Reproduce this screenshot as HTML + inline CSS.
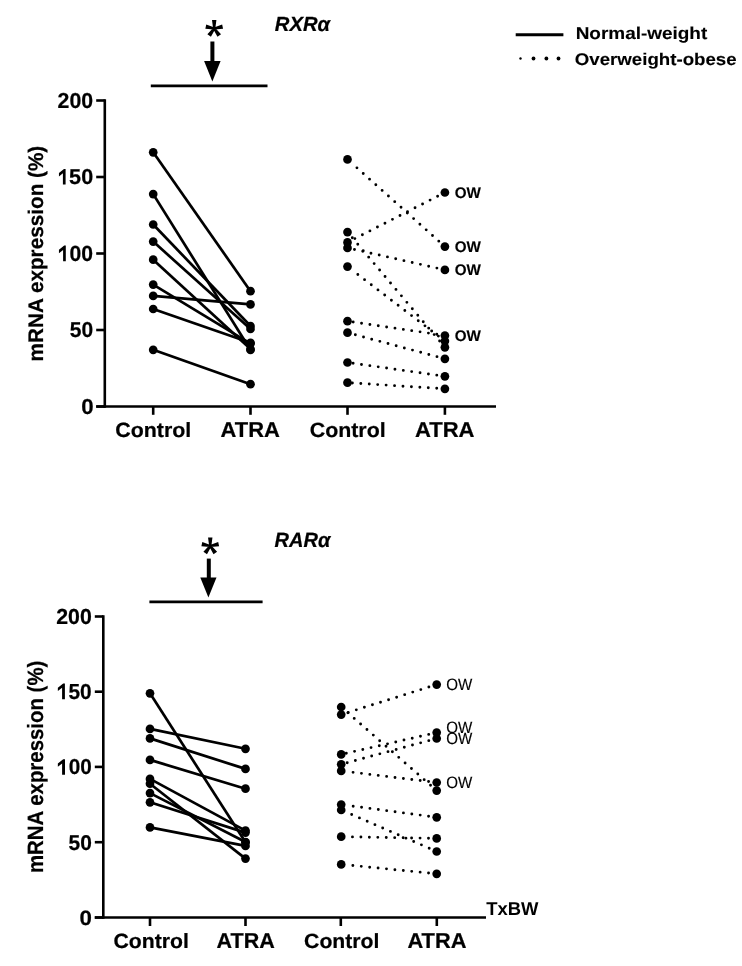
<!DOCTYPE html>
<html><head><meta charset="utf-8"><style>
html,body{margin:0;padding:0;background:#fff;}
svg{display:block;filter:blur(0.7px);}
text{font-family:"Liberation Sans", sans-serif;fill:#000;stroke:#000;text-rendering:geometricPrecision;}
</style></head><body>
<svg width="742" height="966" viewBox="0 0 742 966">
<rect width="742" height="966" fill="#fff"/>
<line x1="104.8" y1="99.2" x2="104.8" y2="407.8" stroke="#000" stroke-width="2.6" />
<line x1="96.2" y1="100.5" x2="104.8" y2="100.5" stroke="#000" stroke-width="2.6" />
<line x1="96.2" y1="177" x2="104.8" y2="177" stroke="#000" stroke-width="2.6" />
<line x1="96.2" y1="253.5" x2="104.8" y2="253.5" stroke="#000" stroke-width="2.6" />
<line x1="96.2" y1="330" x2="104.8" y2="330" stroke="#000" stroke-width="2.6" />
<line x1="96.2" y1="406.5" x2="104.8" y2="406.5" stroke="#000" stroke-width="2.6" />
<line x1="96.2" y1="406.5" x2="496" y2="406.5" stroke="#000" stroke-width="2.6" />
<line x1="153.2" y1="406.5" x2="153.2" y2="414.8" stroke="#000" stroke-width="2.6" />
<line x1="250.5" y1="406.5" x2="250.5" y2="414.8" stroke="#000" stroke-width="2.6" />
<line x1="347.5" y1="406.5" x2="347.5" y2="414.8" stroke="#000" stroke-width="2.6" />
<line x1="444.9" y1="406.5" x2="444.9" y2="414.8" stroke="#000" stroke-width="2.6" />
<text x="57.61" y="107.82" font-size="21.66" font-weight="bold" font-style="normal" textLength="35.55" lengthAdjust="spacingAndGlyphs" stroke-width="0.22" >200</text>
<text x="69.11" y="184.12" font-size="21.52" font-weight="bold" font-style="normal" textLength="24.04" lengthAdjust="spacingAndGlyphs" stroke-width="0.22" >50</text>
<polygon points="65.60,184.45 65.60,168.95 63.98,168.95 58.95,173.08 58.95,176.44 62.90,173.19 62.90,184.45" fill="#000"/>
<text x="69.61" y="261.02" font-size="21.94" font-weight="bold" font-style="normal" textLength="23.52" lengthAdjust="spacingAndGlyphs" stroke-width="0.22" >00</text>
<polygon points="65.80,261.35 65.80,245.55 64.20,245.55 58.95,249.76 58.95,253.19 63.10,249.88 63.10,261.35" fill="#000"/>
<text x="69.83" y="337.42" font-size="21.52" font-weight="bold" font-style="normal" textLength="23.40" lengthAdjust="spacingAndGlyphs" stroke-width="0.22" >50</text>
<text x="81.17" y="413.82" font-size="21.66" font-weight="bold" font-style="normal" textLength="12.39" lengthAdjust="spacingAndGlyphs" stroke-width="0.22" >0</text>
<text x="115.31" y="436.53" font-size="20.65" font-weight="bold" font-style="normal" textLength="75.93" lengthAdjust="spacingAndGlyphs" stroke-width="0.22" >Control</text>
<text x="220.51" y="436.94" font-size="21.57" font-weight="bold" font-style="normal" textLength="59.35" lengthAdjust="spacingAndGlyphs" stroke-width="0.22" >ATRA</text>
<text x="309.71" y="436.53" font-size="20.52" font-weight="bold" font-style="normal" textLength="75.93" lengthAdjust="spacingAndGlyphs" stroke-width="0.22" >Control</text>
<text x="414.91" y="436.94" font-size="21.57" font-weight="bold" font-style="normal" textLength="59.65" lengthAdjust="spacingAndGlyphs" stroke-width="0.22" >ATRA</text>
<text transform="translate(43.10,361.40) rotate(-90)" x="0" y="0" font-size="21.09" font-weight="bold" textLength="215.68" lengthAdjust="spacingAndGlyphs" stroke-width="0.22">mRNA expression (%)</text>
<line x1="150.8" y1="85.9" x2="267.5" y2="85.9" stroke="#000" stroke-width="2.6" />
<line x1="212.4" y1="41.5" x2="212.4" y2="62" stroke="#000" stroke-width="4.0" />
<polygon points="204.1,60.9 220.6,60.9 212.35,81.6" fill="#000"/>
<path d="M215.30,28.50L216.40,19.90L212.00,19.90L213.10,28.50ZM214.43,29.58L223.07,28.86L222.15,24.56L213.97,27.42ZM214.43,27.42L206.25,24.56L205.33,28.86L213.97,29.58ZM213.31,29.15L217.48,36.75L221.03,34.16L215.09,27.85ZM213.31,27.85L207.37,34.16L210.92,36.75L215.09,29.15Z" fill="#000"/>
<circle cx="214.2" cy="28.5" r="1.6"/>
<text x="274.86" y="31.33" font-size="20.54" font-weight="bold" font-style="italic" textLength="55.21" lengthAdjust="spacingAndGlyphs" stroke-width="0.22" >RXRα</text>
<line x1="153.2" y1="152.3" x2="250.5" y2="291.2" stroke="#000" stroke-width="2.7" />
<line x1="153.2" y1="194.1" x2="250.5" y2="350" stroke="#000" stroke-width="2.7" />
<line x1="153.2" y1="224.5" x2="250.5" y2="326" stroke="#000" stroke-width="2.7" />
<line x1="153.2" y1="241.6" x2="250.5" y2="329" stroke="#000" stroke-width="2.7" />
<line x1="153.2" y1="259.7" x2="250.5" y2="349" stroke="#000" stroke-width="2.7" />
<line x1="153.2" y1="284.6" x2="250.5" y2="343.6" stroke="#000" stroke-width="2.7" />
<line x1="153.2" y1="295.9" x2="250.5" y2="304.4" stroke="#000" stroke-width="2.7" />
<line x1="153.2" y1="309" x2="250.5" y2="342.8" stroke="#000" stroke-width="2.7" />
<line x1="153.2" y1="349.8" x2="250.5" y2="384.2" stroke="#000" stroke-width="2.7" />
<circle cx="153.2" cy="152.3" r="4.35"/>
<circle cx="250.5" cy="291.2" r="4.35"/>
<circle cx="153.2" cy="194.1" r="4.35"/>
<circle cx="250.5" cy="350" r="4.35"/>
<circle cx="153.2" cy="224.5" r="4.35"/>
<circle cx="250.5" cy="326" r="4.35"/>
<circle cx="153.2" cy="241.6" r="4.35"/>
<circle cx="250.5" cy="329" r="4.35"/>
<circle cx="153.2" cy="259.7" r="4.35"/>
<circle cx="250.5" cy="349" r="4.35"/>
<circle cx="153.2" cy="284.6" r="4.35"/>
<circle cx="250.5" cy="343.6" r="4.35"/>
<circle cx="153.2" cy="295.9" r="4.35"/>
<circle cx="250.5" cy="304.4" r="4.35"/>
<circle cx="153.2" cy="309" r="4.35"/>
<circle cx="250.5" cy="342.8" r="4.35"/>
<circle cx="153.2" cy="349.8" r="4.35"/>
<circle cx="250.5" cy="384.2" r="4.35"/>
<line x1="441.92" y1="243.93" x2="350.93" y2="162.47" stroke="#000" stroke-width="2.9" stroke-linecap="round" stroke-dasharray="0 8.45" stroke-dashoffset="-4.2"/>
<line x1="442.32" y1="344.25" x2="350.47" y2="235.61" stroke="#000" stroke-width="2.9" stroke-linecap="round" stroke-dasharray="0 8.45" stroke-dashoffset="-4.2"/>
<line x1="441.34" y1="194.32" x2="351.59" y2="240.30" stroke="#000" stroke-width="2.9" stroke-linecap="round" stroke-dasharray="0 8.45" stroke-dashoffset="-4.2"/>
<line x1="441.00" y1="269.02" x2="351.99" y2="248.91" stroke="#000" stroke-width="2.9" stroke-linecap="round" stroke-dasharray="0 8.45" stroke-dashoffset="-4.2"/>
<line x1="441.72" y1="338.67" x2="351.15" y2="269.39" stroke="#000" stroke-width="2.9" stroke-linecap="round" stroke-dasharray="0 8.45" stroke-dashoffset="-4.2"/>
<line x1="440.94" y1="334.92" x2="352.05" y2="321.87" stroke="#000" stroke-width="2.9" stroke-linecap="round" stroke-dasharray="0 8.45" stroke-dashoffset="-4.2"/>
<line x1="441.04" y1="357.76" x2="351.94" y2="333.89" stroke="#000" stroke-width="2.9" stroke-linecap="round" stroke-dasharray="0 8.45" stroke-dashoffset="-4.2"/>
<line x1="440.94" y1="375.74" x2="352.05" y2="363.15" stroke="#000" stroke-width="2.9" stroke-linecap="round" stroke-dasharray="0 8.45" stroke-dashoffset="-4.2"/>
<line x1="440.91" y1="388.55" x2="352.09" y2="382.99" stroke="#000" stroke-width="2.9" stroke-linecap="round" stroke-dasharray="0 8.45" stroke-dashoffset="-4.2"/>
<circle cx="347.5" cy="159.4" r="4.35"/>
<circle cx="444.9" cy="246.6" r="4.35"/>
<circle cx="347.5" cy="232.1" r="4.35"/>
<circle cx="444.9" cy="347.3" r="4.35"/>
<circle cx="347.5" cy="242.4" r="4.35"/>
<circle cx="444.9" cy="192.5" r="4.35"/>
<circle cx="347.5" cy="247.9" r="4.35"/>
<circle cx="444.9" cy="269.9" r="4.35"/>
<circle cx="347.5" cy="266.6" r="4.35"/>
<circle cx="444.9" cy="341.1" r="4.35"/>
<circle cx="347.5" cy="321.2" r="4.35"/>
<circle cx="444.9" cy="335.5" r="4.35"/>
<circle cx="347.5" cy="332.7" r="4.35"/>
<circle cx="444.9" cy="358.8" r="4.35"/>
<circle cx="347.5" cy="362.5" r="4.35"/>
<circle cx="444.9" cy="376.3" r="4.35"/>
<circle cx="347.5" cy="382.7" r="4.35"/>
<circle cx="444.9" cy="388.8" r="4.35"/>
<text x="454.72" y="197.62" font-size="15.42" font-weight="bold" font-style="normal" textLength="26.18" lengthAdjust="spacingAndGlyphs" stroke-width="0.15" >OW</text>
<text x="454.72" y="251.72" font-size="15.42" font-weight="bold" font-style="normal" textLength="26.18" lengthAdjust="spacingAndGlyphs" stroke-width="0.15" >OW</text>
<text x="454.72" y="275.42" font-size="15.42" font-weight="bold" font-style="normal" textLength="26.18" lengthAdjust="spacingAndGlyphs" stroke-width="0.15" >OW</text>
<text x="454.72" y="341.12" font-size="15.42" font-weight="bold" font-style="normal" textLength="26.18" lengthAdjust="spacingAndGlyphs" stroke-width="0.15" >OW</text>
<line x1="103.3" y1="615.2" x2="103.3" y2="918.8" stroke="#000" stroke-width="2.6" />
<line x1="94.8" y1="616.5" x2="103.3" y2="616.5" stroke="#000" stroke-width="2.6" />
<line x1="94.8" y1="691.7" x2="103.3" y2="691.7" stroke="#000" stroke-width="2.6" />
<line x1="94.8" y1="766.9" x2="103.3" y2="766.9" stroke="#000" stroke-width="2.6" />
<line x1="94.8" y1="842.2" x2="103.3" y2="842.2" stroke="#000" stroke-width="2.6" />
<line x1="94.8" y1="917.5" x2="103.3" y2="917.5" stroke="#000" stroke-width="2.6" />
<line x1="94.8" y1="917.5" x2="486" y2="917.5" stroke="#000" stroke-width="2.6" />
<line x1="150" y1="917.5" x2="150" y2="926" stroke="#000" stroke-width="2.6" />
<line x1="245.5" y1="917.5" x2="245.5" y2="926" stroke="#000" stroke-width="2.6" />
<line x1="340.8" y1="917.5" x2="340.8" y2="926" stroke="#000" stroke-width="2.6" />
<line x1="436.8" y1="917.5" x2="436.8" y2="926" stroke="#000" stroke-width="2.6" />
<text x="56.21" y="623.62" font-size="21.80" font-weight="bold" font-style="normal" textLength="35.55" lengthAdjust="spacingAndGlyphs" stroke-width="0.22" >200</text>
<text x="68.53" y="698.82" font-size="21.66" font-weight="bold" font-style="normal" textLength="23.19" lengthAdjust="spacingAndGlyphs" stroke-width="0.22" >50</text>
<polygon points="64.90,699.15 64.90,683.55 63.19,683.55 57.85,687.71 57.85,691.09 62.10,687.82 62.10,699.15" fill="#000"/>
<text x="68.63" y="774.42" font-size="21.52" font-weight="bold" font-style="normal" textLength="23.09" lengthAdjust="spacingAndGlyphs" stroke-width="0.22" >00</text>
<polygon points="65.00,774.75 65.00,759.25 63.18,759.25 57.85,763.38 57.85,766.74 62.10,763.49 62.10,774.75" fill="#000"/>
<text x="68.53" y="850.03" font-size="21.38" font-weight="bold" font-style="normal" textLength="23.30" lengthAdjust="spacingAndGlyphs" stroke-width="0.22" >50</text>
<text x="79.57" y="924.83" font-size="20.82" font-weight="bold" font-style="normal" textLength="12.39" lengthAdjust="spacingAndGlyphs" stroke-width="0.22" >0</text>
<text x="113.51" y="947.53" font-size="20.65" font-weight="bold" font-style="normal" textLength="75.31" lengthAdjust="spacingAndGlyphs" stroke-width="0.22" >Control</text>
<text x="216.62" y="947.94" font-size="21.57" font-weight="bold" font-style="normal" textLength="58.23" lengthAdjust="spacingAndGlyphs" stroke-width="0.22" >ATRA</text>
<text x="304.11" y="947.53" font-size="20.52" font-weight="bold" font-style="normal" textLength="75.31" lengthAdjust="spacingAndGlyphs" stroke-width="0.22" >Control</text>
<text x="407.41" y="947.94" font-size="21.57" font-weight="bold" font-style="normal" textLength="59.04" lengthAdjust="spacingAndGlyphs" stroke-width="0.22" >ATRA</text>
<text transform="translate(42.80,873.08) rotate(-90)" x="0" y="0" font-size="22.10" font-weight="bold" textLength="212.44" lengthAdjust="spacingAndGlyphs" stroke-width="0.22">mRNA expression (%)</text>
<line x1="149.4" y1="601.9" x2="262.6" y2="601.9" stroke="#000" stroke-width="2.6" />
<line x1="208.8" y1="558.6" x2="208.8" y2="579" stroke="#000" stroke-width="4.0" />
<polygon points="200.3,577.6 216.5,577.6 208.4,597.5" fill="#000"/>
<path d="M211.35,546.00L212.45,537.40L208.05,537.40L209.15,546.00ZM210.48,547.08L219.12,546.36L218.20,542.06L210.02,544.92ZM210.48,544.92L202.30,542.06L201.38,546.36L210.02,547.08ZM209.36,546.65L213.53,554.25L217.08,551.66L211.14,545.35ZM209.36,545.35L203.42,551.66L206.97,554.25L211.14,546.65Z" fill="#000"/>
<circle cx="210.25" cy="546.0" r="1.6"/>
<text x="274.56" y="546.73" font-size="20.69" font-weight="bold" font-style="italic" textLength="55.81" lengthAdjust="spacingAndGlyphs" stroke-width="0.22" >RARα</text>
<line x1="150" y1="693.3" x2="245.5" y2="842.3" stroke="#000" stroke-width="2.7" />
<line x1="150" y1="728.9" x2="245.5" y2="748.8" stroke="#000" stroke-width="2.7" />
<line x1="150" y1="738.4" x2="245.5" y2="768.9" stroke="#000" stroke-width="2.7" />
<line x1="150" y1="759.9" x2="245.5" y2="788.7" stroke="#000" stroke-width="2.7" />
<line x1="150" y1="778.9" x2="245.5" y2="830.6" stroke="#000" stroke-width="2.7" />
<line x1="150" y1="783.7" x2="245.5" y2="858.6" stroke="#000" stroke-width="2.7" />
<line x1="150" y1="793.1" x2="245.5" y2="842.0" stroke="#000" stroke-width="2.7" />
<line x1="150" y1="802.3" x2="245.5" y2="832.6" stroke="#000" stroke-width="2.7" />
<line x1="150" y1="827.4" x2="245.5" y2="845.9" stroke="#000" stroke-width="2.7" />
<circle cx="150" cy="693.3" r="4.35"/>
<circle cx="245.5" cy="842.3" r="4.35"/>
<circle cx="150" cy="728.9" r="4.35"/>
<circle cx="245.5" cy="748.8" r="4.35"/>
<circle cx="150" cy="738.4" r="4.35"/>
<circle cx="245.5" cy="768.9" r="4.35"/>
<circle cx="150" cy="759.9" r="4.35"/>
<circle cx="245.5" cy="788.7" r="4.35"/>
<circle cx="150" cy="778.9" r="4.35"/>
<circle cx="245.5" cy="830.6" r="4.35"/>
<circle cx="150" cy="783.7" r="4.35"/>
<circle cx="245.5" cy="858.6" r="4.35"/>
<circle cx="150" cy="793.1" r="4.35"/>
<circle cx="245.5" cy="842.0" r="4.35"/>
<circle cx="150" cy="802.3" r="4.35"/>
<circle cx="245.5" cy="832.6" r="4.35"/>
<circle cx="150" cy="827.4" r="4.35"/>
<circle cx="245.5" cy="845.9" r="4.35"/>
<line x1="433.69" y1="787.97" x2="344.66" y2="710.03" stroke="#000" stroke-width="2.9" stroke-linecap="round" stroke-dasharray="0 8.45" stroke-dashoffset="-4.2"/>
<line x1="432.88" y1="685.80" x2="345.59" y2="713.22" stroke="#000" stroke-width="2.9" stroke-linecap="round" stroke-dasharray="0 8.45" stroke-dashoffset="-4.2"/>
<line x1="432.80" y1="733.49" x2="345.68" y2="753.38" stroke="#000" stroke-width="2.9" stroke-linecap="round" stroke-dasharray="0 8.45" stroke-dashoffset="-4.2"/>
<line x1="432.84" y1="739.54" x2="345.64" y2="763.10" stroke="#000" stroke-width="2.9" stroke-linecap="round" stroke-dasharray="0 8.45" stroke-dashoffset="-4.2"/>
<line x1="432.73" y1="782.02" x2="345.77" y2="771.45" stroke="#000" stroke-width="2.9" stroke-linecap="round" stroke-dasharray="0 8.45" stroke-dashoffset="-4.2"/>
<line x1="432.73" y1="816.77" x2="345.76" y2="805.21" stroke="#000" stroke-width="2.9" stroke-linecap="round" stroke-dasharray="0 8.45" stroke-dashoffset="-4.2"/>
<line x1="433.03" y1="849.91" x2="345.42" y2="811.83" stroke="#000" stroke-width="2.9" stroke-linecap="round" stroke-dasharray="0 8.45" stroke-dashoffset="-4.2"/>
<line x1="432.70" y1="838.33" x2="345.80" y2="836.78" stroke="#000" stroke-width="2.9" stroke-linecap="round" stroke-dasharray="0 8.45" stroke-dashoffset="-4.2"/>
<line x1="432.72" y1="873.41" x2="345.78" y2="864.85" stroke="#000" stroke-width="2.9" stroke-linecap="round" stroke-dasharray="0 8.45" stroke-dashoffset="-4.2"/>
<circle cx="341.2" cy="707" r="4.35"/>
<circle cx="436.7" cy="790.6" r="4.35"/>
<circle cx="341.2" cy="714.6" r="4.35"/>
<circle cx="436.7" cy="684.6" r="4.35"/>
<circle cx="341.2" cy="754.4" r="4.35"/>
<circle cx="436.7" cy="732.6" r="4.35"/>
<circle cx="341.2" cy="764.3" r="4.35"/>
<circle cx="436.7" cy="738.5" r="4.35"/>
<circle cx="341.2" cy="770.9" r="4.35"/>
<circle cx="436.7" cy="782.5" r="4.35"/>
<circle cx="341.2" cy="804.6" r="4.35"/>
<circle cx="436.7" cy="817.3" r="4.35"/>
<circle cx="341.2" cy="810" r="4.35"/>
<circle cx="436.7" cy="851.5" r="4.35"/>
<circle cx="341.2" cy="836.7" r="4.35"/>
<circle cx="436.7" cy="838.4" r="4.35"/>
<circle cx="341.2" cy="864.4" r="4.35"/>
<circle cx="436.7" cy="873.8" r="4.35"/>
<text x="446.34" y="689.61" font-size="16.41" font-weight="normal" font-style="normal" textLength="26.06" lengthAdjust="spacingAndGlyphs" stroke-width="0.15" >OW</text>
<text x="446.34" y="732.51" font-size="16.41" font-weight="normal" font-style="normal" textLength="26.06" lengthAdjust="spacingAndGlyphs" stroke-width="0.15" >OW</text>
<text x="446.34" y="743.51" font-size="16.41" font-weight="normal" font-style="normal" textLength="26.06" lengthAdjust="spacingAndGlyphs" stroke-width="0.15" >OW</text>
<text x="446.34" y="788.11" font-size="16.41" font-weight="normal" font-style="normal" textLength="26.06" lengthAdjust="spacingAndGlyphs" stroke-width="0.15" >OW</text>
<text x="486.17" y="915.15" font-size="18.70" font-weight="bold" font-style="normal" textLength="52.24" lengthAdjust="spacingAndGlyphs" stroke-width="0" >TxBW</text>
<line x1="515.7" y1="34.7" x2="563.4" y2="34.7" stroke="#000" stroke-width="3.0" />
<circle cx="520.5" cy="58.5" r="1.2"/>
<circle cx="533.5" cy="58.5" r="1.9"/>
<circle cx="546.4" cy="58.5" r="1.9"/>
<circle cx="558.5" cy="58.5" r="1.9"/>
<text x="575.68" y="39.39" font-size="17.21" font-weight="bold" font-style="normal" textLength="131.59" lengthAdjust="spacingAndGlyphs" stroke-width="0.12">Normal-weight</text>
<text x="574.76" y="64.69" font-size="16.94" font-weight="bold" font-style="normal" textLength="161.86" lengthAdjust="spacingAndGlyphs" stroke-width="0.12">Overweight-obese</text>
</svg>
</body></html>
